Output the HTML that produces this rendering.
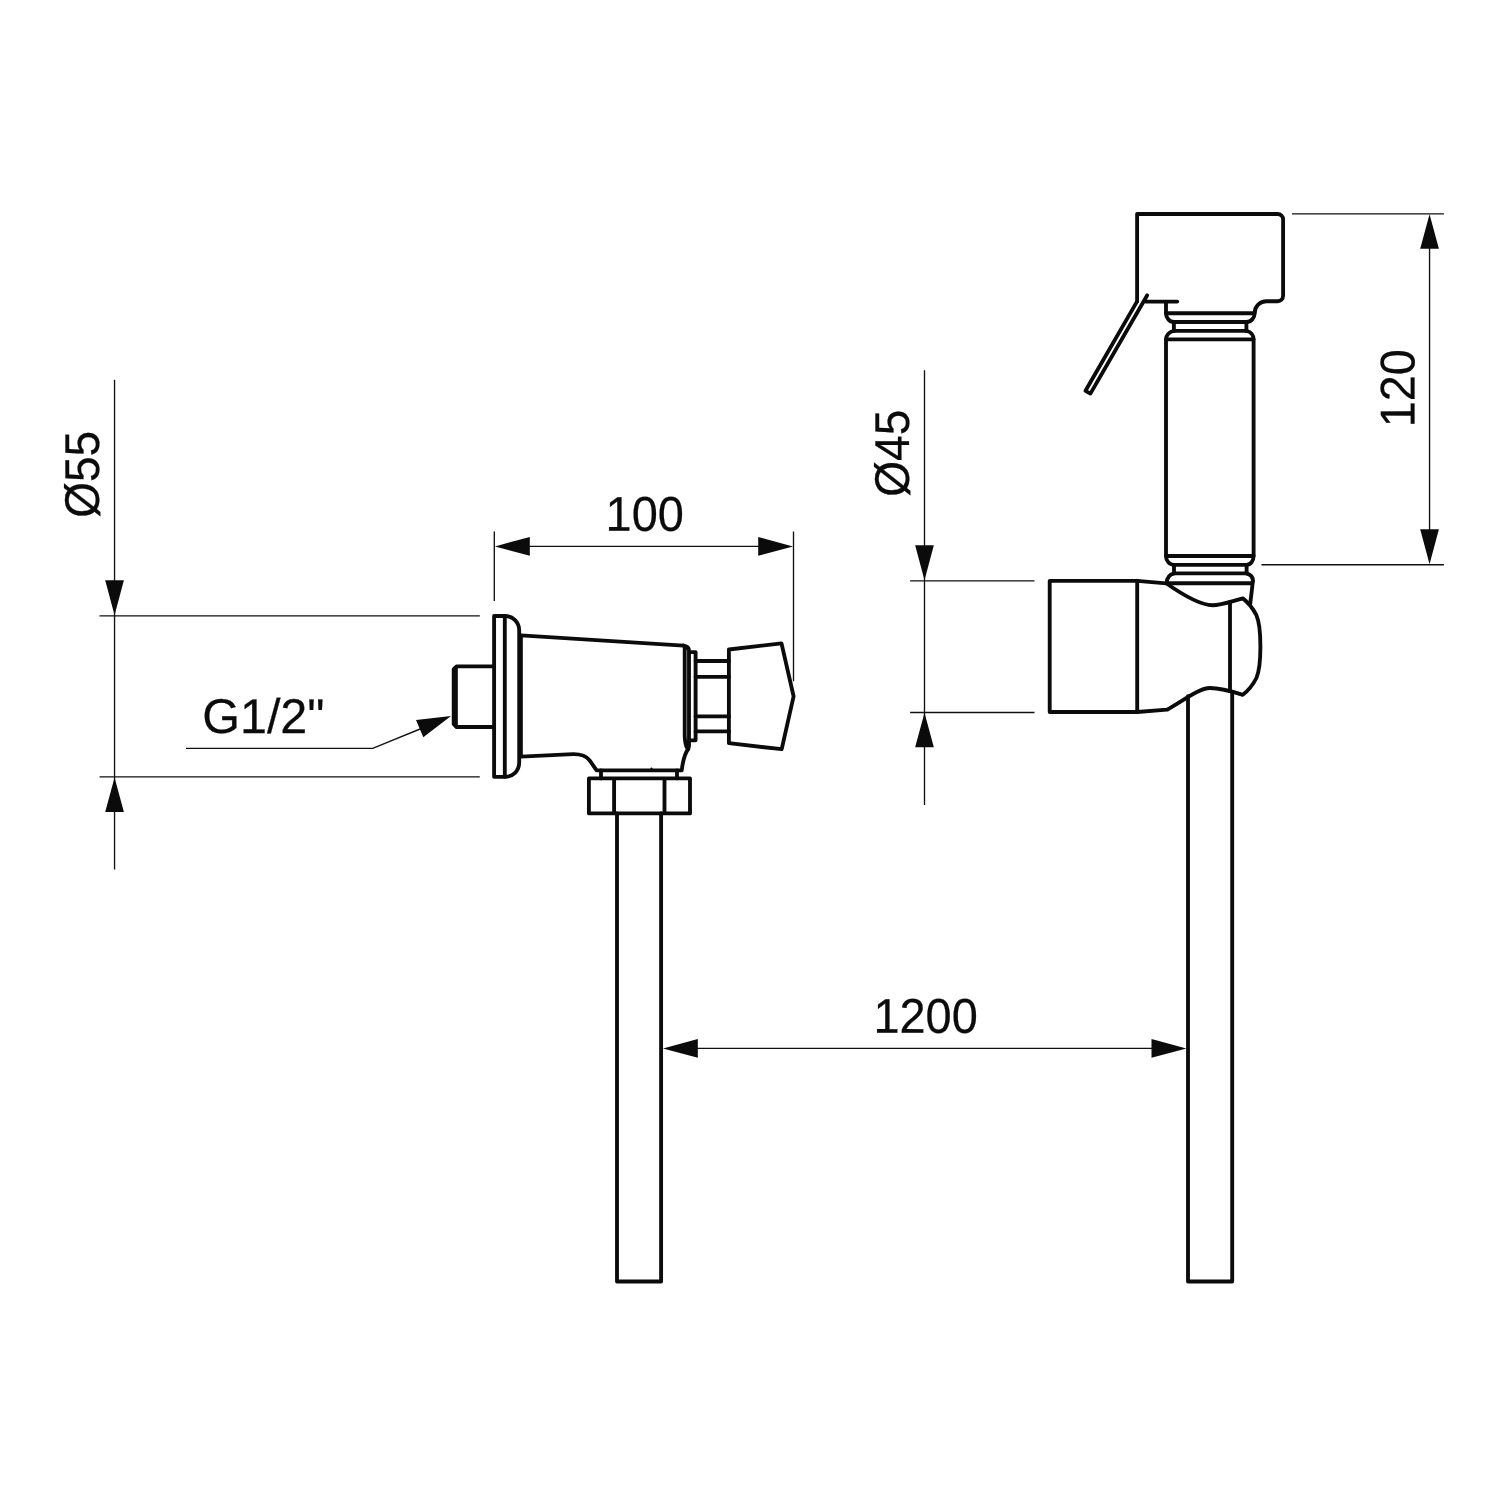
<!DOCTYPE html>
<html lang="en">
<head>
<meta charset="utf-8">
<title>Technical drawing</title>
<style>
html,body{margin:0;padding:0;background:#fff;}
body{width:1500px;height:1500px;overflow:hidden;}
svg{display:block;}
.k{fill:none;stroke:#0b0b0b;stroke-width:3.85;stroke-linejoin:round;stroke-linecap:round;}
.t{fill:none;stroke:#111;stroke-width:1.35;stroke-linecap:butt;}
.a{fill:#0b0b0b;stroke:none;}
text{font-family:"Liberation Sans",sans-serif;font-size:48.8px;text-rendering:geometricPrecision;fill:#0b0b0b;stroke:#0b0b0b;stroke-width:0.25;text-anchor:middle;}
svg{will-change:transform;}
</style>
</head>
<body>
<svg width="1500" height="1500" viewBox="0 0 1500 1500">
<rect width="1500" height="1500" fill="#fff"/>

<!-- ===== faucet ===== -->
<g class="k">
  <!-- inlet stub -->
  <path d="M494.1,666.4 L456.6,666.4 L453.7,669.2 L453.7,724.2 L456.6,727 L494.1,727"/>
  <path d="M455.9,668 L455.9,725.5"/>
  <!-- flange -->
  <path d="M494.1,616 L504.8,616 L504.8,776.8 L494.1,776.8 Z"/>
  <path d="M504.8,616 C513,616 519.2,622 519.2,630.5 L519.2,762.3 C519.2,771 513,776.8 504.8,776.8"/>
  <!-- body -->
  <path d="M688.2,749 C686,752 683,760 681.7,770.4 L596.6,770.4 L589.6,760.3 C586,755.5 581,754 573,754.1 L520.9,756.6 L520.9,635.3 L683.5,645.6"/>
  <path d="M683.5,645.6 L686.5,646.6 Q689,647.6 689,651 L689,746 L688.2,749 M684.7,646.5 L684.7,735 Q684.9,745 687.6,749"/>
  <!-- ring -->
  <path d="M690.3,652.1 L695.6,652.1 L695.6,740.3 L690.3,740.3"/>
  <!-- stem -->
  <path d="M695.6,661 H728.9 M695.6,676.8 H728.9 M695.6,716.4 H728.9 M695.6,731.4 H728.9"/>
  <!-- knob -->
  <path d="M728.9,649.5 L781.5,643.4 L793.6,696.3 L781.7,749.2 L728.9,743.2 Z"/>
  <!-- neck -->
  <path d="M601,770.4 V778.4 M677,770.4 V778.4"/>
  <!-- nut -->
  <path d="M588.9,778.4 H690 V813.4 H588.9 Z M614.1,778.4 V813.4 M664.5,778.4 V813.4"/>
  <!-- pipe -->
  <path d="M617,813.4 V1281.5 H661.1 V813.4"/>
</g>

<!-- ===== shower ===== -->
<g class="k">
  <!-- head -->
  <path d="M1137.1,301.4 L1137.1,214 L1277.7,214 A5.4,5.4 0 0 1 1283.1,219.4 L1283.1,295.8 A5.4,5.4 0 0 1 1277.7,301.2 L1266.4,301.2 A11.7,11.7 0 0 0 1254.7,312.9 C1254.7,318 1251,322 1246.4,322"/>
  <path d="M1145.5,301.6 H1177.2"/>
  <!-- lever -->
  <path d="M1137.1,301.4 L1085.5,390.8 L1090.4,393.6 L1147.2,295.3"/>
  <!-- collar top -->
  <path d="M1166,302.5 V313.2 C1166,318 1169.5,322 1173.9,322"/>
  <path d="M1166,313.2 H1254.5 M1173.9,322 H1246.4 M1173.9,330.8 H1246.4 M1166,339.3 H1253.6"/>
  <path d="M1173.9,322 V330.8 M1246.4,322 V330.8"/>
  <path d="M1173.9,330.8 C1169.5,331.5 1166,335 1166,339.5 V556 C1166,561 1169.5,564.8 1174,564.8 M1246.4,330.8 C1250.5,331.5 1253.6,335 1253.6,339.5 V556 C1253.6,561 1250.5,564.8 1246.6,564.8"/>
  <path d="M1166,556 H1253.6 M1174,564.8 H1246.6 M1174,573.4 H1246.6"/>
  <path d="M1174,564.8 V573.4 M1246.6,564.8 V573.4"/>
  <path d="M1174,573.4 C1169.5,574.5 1166.8,578 1166.6,583.2 M1246.6,573.4 C1250.5,574.5 1253,577.5 1252.9,581"/>
  <path d="M1166.5,583.2 H1252.6 M1252.9,581 L1250.2,604"/>
  <!-- holder -->
  <path d="M1137.2,580.8 H1049.7 V712 H1137.2"/>
  <path d="M1137.2,580.8 V712"/>
  <path d="M1137.2,580.8 L1166.2,583.3 C1178,591.6 1198,605.2 1212.4,605.2 C1222,605.2 1233,600.8 1242.8,598.4 C1248,602.4 1253,608.5 1256.4,615.2 C1259,621 1260.4,634 1260.4,646.6 C1260.4,659.2 1259,672.2 1256.4,678 C1253,684.7 1248,690.8 1242.8,694.8 C1234,692 1221,688 1210,688 C1199,688 1182,701.5 1167,709.7 L1137.2,712"/>
  <!-- hose -->
  <path d="M1188,696.2 V1281.5 H1232.2 V692"/>
  <path d="M1230,602.2 V691"/>
</g>

<!-- ===== dimensions ===== -->
<g class="t">
  <!-- 100 -->
  <path d="M494.3,531.6 V601 M793.5,531.6 V681.3 M500,546.4 H788"/>
  <!-- dia 55 -->
  <path d="M114.55,379.7 V869.6 M99.5,615.85 H479.8 M99.5,776.85 H479.8"/>
  <!-- leader -->
  <path d="M186,748.3 H372.7 L425,727"/>
  <!-- dia 45 -->
  <path d="M924.5,370.3 V805 M910.1,580.8 H1034.5 M910.1,712.5 H1034.5"/>
  <!-- 120 -->
  <path d="M1429.55,218 V560 M1292,213.9 H1443.9 M1261.5,564.75 H1443.9"/>
  <!-- 1200 -->
  <path d="M668,1048.4 H1182"/>
</g>
<g class="a">
  <path d="M494.9,546.4 L529.8,537 V555.8 Z"/>
  <path d="M793,546.4 L758.2,537 V555.8 Z"/>
  <path d="M114.55,615.3 L105.2,580.3 H123.9 Z"/>
  <path d="M114.55,777.4 L105.2,812 H123.9 Z"/>
  <path d="M924.5,580.2 L915.15,545.3 H933.85 Z"/>
  <path d="M924.5,712.7 L915.15,747.3 H933.85 Z"/>
  <path d="M1429.55,214.2 L1420.2,248.8 H1438.9 Z"/>
  <path d="M1429.55,564.3 L1420.2,529.2 H1438.9 Z"/>
  <path d="M663,1048.4 L697.8,1039 V1057.8 Z"/>
  <path d="M1186.4,1048.4 L1151.5,1039 V1057.8 Z"/>
  <path d="M451,715.9 L423.3,737.3 L416,720 Z"/>
  <path d="M650.2,769 L651,767.6 L652,767.6 L652.8,769 Z"/>
</g>

<g class="x">
<text transform="translate(644.7,530.7) rotate(0.03) scale(0.9605,1)">100</text>
<text transform="translate(925.6,1032.7) rotate(0.03) scale(0.9600,1)">1200</text>
<text transform="translate(263.4,733) rotate(0.03) scale(0.9929,1)">G1/2"</text>
<text transform="translate(98.9,474.4) rotate(-90.03) scale(0.9427,1)">Ø55</text>
<text transform="translate(908.9,453.2) rotate(-90.03) scale(0.9464,1)">Ø45</text>
<text transform="translate(1414.5,388.2) rotate(-90.03) scale(0.9591,1)">120</text>
</g>
</svg>
</body>
</html>
